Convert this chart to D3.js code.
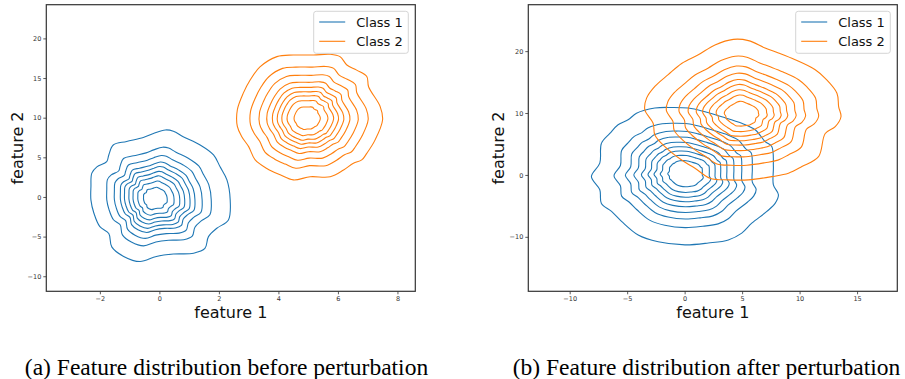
<!DOCTYPE html>
<html><head><meta charset="utf-8">
<script src="https://cdn.jsdelivr.net/npm/d3@7"></script>
<style>html,body{margin:0;padding:0;background:#fff;}svg{display:block;}</style>
</head><body>
<svg id="chart" width="905" height="379"></svg>
<script>
// ---------- data ----------
const classes = ["Class 1", "Class 2"];
const captions = ["(a) Feature distribution before perturbation", "(b) Feature distribution after perturbation"];

const ticksAx = [-2, 0, 2, 4, 6, 8];
const ticksAy = [-10, -5, 0, 5, 10, 15, 20];
const ticksBx = [-10, -5, 0, 5, 10, 15];
const ticksBy = [-10, 0, 10, 20];

const domainAx = [-3.8, 8.6];
const domainAy = [-11.9, 24.25];
const domainBx = [-13.6, 18.5];
const domainBy = [-18.8, 27.5];

// panel (a), class 1: outermost density contour, density peak, relative size of each contour level
const outlineA1 = [[0.2,8.45],[-0.2,8.0],[-0.54,7.5],[-1.1,7.0],[-1.55,6.55],[-1.7,5.3],[-1.77,4.45],[-2.1,3.8],[-2.27,3.0],[-2.3,1.3],[-2.3,-0.4],[-2.2,-2.05],[-2.0,-3.75],[-1.7,-4.6],[-1.6,-6.3],[-1.2,-7.5],[-0.65,-8.15],[-0.1,-7.5],[0.47,-7.2],[1.15,-7.1],[1.53,-6.5],[1.65,-5.0],[1.93,-3.95],[2.32,-2.9],[2.38,-0.4],[2.27,2.15],[2.04,3.8],[1.82,5.3],[1.37,6.55],[0.8,7.6],[0.47,8.3]];
const peakA1 = [-0.17, -0.25];
const levelsA1 = [1, 0.75, 0.63, 0.535, 0.47, 0.40, 0.335, 0.26, 0.17];

// panel (a), class 2
const outlineA2 = [[3.95,17.7],[3.38,16.4],[3.05,14.75],[2.82,13.1],[2.62,11.0],[2.62,8.9],[2.77,7.6],[3.0,6.35],[3.22,4.67],[3.61,3.6],[4.06,2.8],[4.5,2.15],[5.07,2.55],[5.74,2.55],[6.19,3.4],[6.52,4.25],[6.8,4.67],[6.97,5.5],[7.25,7.2],[7.5,9.7],[7.42,11.4],[7.03,13.9],[6.97,15.2],[6.63,16.0],[6.3,16.65],[6.07,17.7],[5.74,18.0],[5.18,17.9],[4.5,17.9]];
const peakA2 = [4.95, 9.9];
const levelsA2 = [1, 0.81, 0.68, 0.57, 0.49, 0.42, 0.355, 0.28, 0.18];

// panel (b), class 1
const outlineB1 = [[-1.13,10.9],[-2.59,10.8],[-4.19,9.95],[-4.92,8.9],[-5.79,8.1],[-6.51,6.7],[-7.24,5.1],[-7.38,1.9],[-8.11,-0.27],[-7.38,-2.4],[-7.24,-4.6],[-6.36,-5.9],[-5.49,-7.5],[-4.04,-9.7],[-2.3,-10.8],[0.03,-11.3],[2.06,-11.0],[3.8,-10.5],[4.97,-9.4],[5.84,-7.8],[7.15,-5.9],[7.87,-4.6],[8.16,-3.2],[7.72,-1.6],[7.72,1.35],[7.58,4.6],[7.0,5.4],[6.13,7.3],[4.97,8.35],[3.23,9.4],[1.77,10.2],[0.32,10.8]];
const peakB1 = [0.09, 0.3];
const levelsB1 = [1, 0.76, 0.64, 0.55, 0.47, 0.40, 0.336, 0.27, 0.19];

// panel (b), class 2
const outlineB2 = [[4.24,21.9],[2.64,21.0],[1.19,19.4],[-0.26,18.0],[-1.43,16.2],[-2.59,14.3],[-3.31,12.4],[-3.46,10.5],[-2.74,8.35],[-2.59,6.46],[-1.72,4.57],[-0.26,2.4],[0.9,1.08],[2.2,-0.53],[3.8,-0.8],[5.55,-0.8],[7.58,-0.27],[9.03,0.27],[10.2,1.35],[11.65,2.96],[12.23,6.7],[13.1,7.8],[13.6,9.4],[13.4,11.0],[13.25,13.2],[12.23,15.6],[11.36,17.0],[9.62,18.6],[8.16,19.7],[7.0,20.5],[5.55,21.7]];
const peakB2 = [4.93, 9.75];
const levelsB2 = [1, 0.776, 0.645, 0.55, 0.466, 0.40, 0.33, 0.26, 0.176];

// ---------- drawing ----------
const colors = ["#1f77b4", "#ff7f0e"];
const svg = d3.select("#chart");

const panels = [
  {x0: 46.3, x1: 415.3, xd: domainAx, yd: domainAy, xt: ticksAx, yt: ticksAy,
   sets: [[outlineA1, peakA1, levelsA1], [outlineA2, peakA2, levelsA2]], cap: captions[0], capX: 226.5, ylabX: 17},
  {x0: 528.3, x1: 897.3, xd: domainBx, yd: domainBy, xt: ticksBx, yt: ticksBy,
   sets: [[outlineB1, peakB1, levelsB1], [outlineB2, peakB2, levelsB2]], cap: captions[1], capX: 706.5, ylabX: 498.5}
];
const plotTop = 4.7, plotBottom = 291.3;
const fmt = d => (d < 0 ? "\u2212" + Math.abs(d) : String(d));

panels.forEach((p, pi) => {
  const x = d3.scaleLinear().domain(p.xd).range([p.x0, p.x1]);
  const y = d3.scaleLinear().domain(p.yd).range([plotBottom, plotTop]);
  const g = svg.append("g");

  const clipId = "clip" + pi;
  svg.append("clipPath").attr("id", clipId).append("rect")
    .attr("x", p.x0).attr("y", plotTop).attr("width", p.x1 - p.x0).attr("height", plotBottom - plotTop);

  const line = d3.line().x(d => x(d[0])).y(d => y(d[1])).curve(d3.curveCatmullRomClosed.alpha(0.5));
  const cg = g.append("g").attr("clip-path", `url(#${clipId})`);
  p.sets.forEach((s, ci) => {
    const [outline, peak, levels] = s;
    levels.forEach(f => {
      const pts = outline.map(pt => [peak[0] + f * (pt[0] - peak[0]), peak[1] + f * (pt[1] - peak[1])]);
      cg.append("path").attr("d", line(pts)).attr("fill", "none")
        .attr("stroke", colors[ci]).attr("stroke-width", 1.1);
    });
  });

  // axes
  const xa = g.append("g").attr("transform", `translate(0,${plotBottom})`)
    .call(d3.axisBottom(x).tickValues(p.xt).tickFormat(fmt).tickSize(3).tickPadding(2));
  const ya = g.append("g").attr("transform", `translate(${p.x0},0)`)
    .call(d3.axisLeft(y).tickValues(p.yt).tickFormat(fmt).tickSize(3).tickPadding(2));
  [xa, ya].forEach(a => {
    a.select(".domain").remove();
    a.selectAll("text").attr("font-family", "DejaVu Sans").attr("font-size", 6.5).attr("fill", "#333");
    a.selectAll("line").attr("stroke", "#333").attr("stroke-width", 0.8);
  });
  g.append("rect").attr("x", p.x0).attr("y", plotTop).attr("width", p.x1 - p.x0).attr("height", plotBottom - plotTop)
    .attr("fill", "none").attr("stroke", "#333").attr("stroke-width", 1.2);

  // axis labels
  g.append("text").attr("x", (p.x0 + p.x1) / 2).attr("y", 317.5).attr("text-anchor", "middle")
    .attr("font-family", "DejaVu Sans").attr("font-size", 16).attr("fill", "#111").text("feature 1");
  g.append("text").attr("transform", `translate(${p.ylabX + 5.5},${(plotTop + plotBottom) / 2}) rotate(-90)`)
    .attr("text-anchor", "middle").attr("font-family", "DejaVu Sans").attr("font-size", 16).attr("fill", "#111").text("feature 2");

  // legend
  const lx = p.x1 - 101.6, ly = 11.3;
  const lg = g.append("g");
  lg.append("rect").attr("x", lx).attr("y", ly).attr("width", 94.6).attr("height", 42).attr("rx", 2.5)
    .attr("fill", "#fff").attr("fill-opacity", 0.85).attr("stroke", "#d0d0d0").attr("stroke-width", 0.9);
  classes.forEach((c, i) => {
    const yy = 22 + i * 19.3;
    lg.append("line").attr("x1", lx + 5.5).attr("x2", lx + 31.5).attr("y1", yy).attr("y2", yy)
      .attr("stroke", colors[i]).attr("stroke-width", 1.1);
    lg.append("text").attr("x", lx + 42.5).attr("y", yy + 4.6).attr("font-family", "DejaVu Sans")
      .attr("font-size", 13).attr("fill", "#111").text(c);
  });

  // caption
  svg.append("text").attr("x", p.capX).attr("y", 374.5).attr("text-anchor", "middle")
    .attr("font-family", "Liberation Serif").attr("font-size", 23.5).attr("fill", "#000").text(p.cap);
});
</script>
</body></html>
